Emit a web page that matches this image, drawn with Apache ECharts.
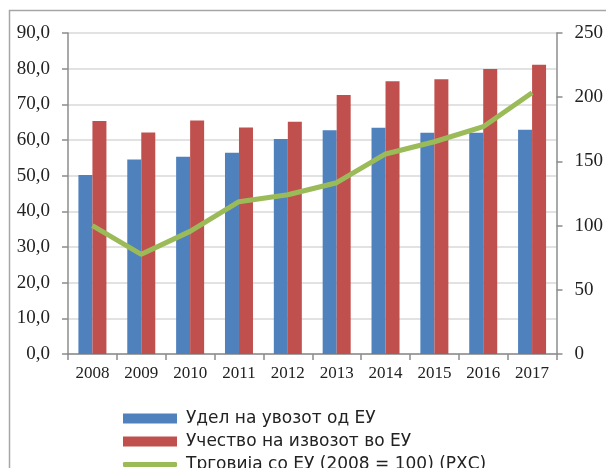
<html>
<head>
    <meta charset="utf-8">
    <title>Трговија со ЕУ</title>
    <script src="https://cdn.jsdelivr.net/npm/echarts@6.0.0/dist/echarts.min.js"></script>
    <style>
        html, body { margin: 0; padding: 0; background: #fff; }
        #main { width: 606px; height: 468px; }
    </style>
</head>
<body>
<div id="main"></div>
<script>
    var years = ['2008', '2009', '2010', '2011', '2012', '2013', '2014', '2015', '2016', '2017']
    var importShare = [50.2, 54.5, 55.3, 56.4, 60.3, 62.7, 63.4, 62.0, 62.0, 62.9]
    var exportShare = [65.3, 62.1, 65.5, 63.5, 65.1, 72.6, 76.5, 77.0, 79.9, 81.1]
    var tradeIndex = [100, 77.6, 95.5, 118.6, 124, 133.4, 155.8, 165.3, 177, 203.5]
    var names = ['Удел на увозот од ЕУ', 'Учество на извозот во ЕУ', 'Трговија со ЕУ (2008 = 100) (РХС)']

    var serif = '"Liberation Serif", "DejaVu Serif", serif'
    var axisGray = '#8c8c8c'
    var legendText = { fontFamily: '"DejaVu Sans", sans-serif', fontSize: 17, color: '#222', padding: [0, 0, 0, 4] }

    // one legend per row so they stack like the original
    function legendRow (name, top, icon, h) {
        return {
            left: 123,
            top: top,
            padding: 0,
            itemWidth: 54,
            itemHeight: h,
            icon: icon,
            textStyle: legendText,
            data: [name]
        }
    }

    var myChart = echarts.init(document.getElementById('main'))

    myChart.setOption({
        animation: false,
        graphic: [{
            type: 'rect',
            shape: { x: 9.5, y: 10.5, width: 620, height: 480 },
            style: { fill: 'none', stroke: '#a6a6a6', lineWidth: 1.5 }
        }],
        grid: { left: 68, right: 49, top: 33, bottom: 114 },
        legend: [
            legendRow(names[0], 410, 'rect', 10),
            legendRow(names[1], 433, 'rect', 10),
            legendRow(names[2], 456, 'roundRect', 5)
        ],
        xAxis: {
            type: 'category',
            data: years,
            axisLine: { lineStyle: { color: axisGray, width: 1.5 } },
            axisTick: { show: true, length: 6, lineStyle: { color: axisGray, width: 1.5 } },
            axisLabel: { fontFamily: serif, fontSize: 17, color: '#222', margin: 11 }
        },
        yAxis: [{
            type: 'value',
            min: 0,
            max: 90,
            interval: 10,
            axisLine: { show: true, lineStyle: { color: axisGray, width: 1.5 } },
            axisTick: { show: true, length: 6, lineStyle: { color: axisGray, width: 1.5 } },
            splitLine: { lineStyle: { color: '#d9d9d9', width: 1.5 } },
            axisLabel: {
                fontFamily: serif, fontSize: 19, color: '#222', margin: 18,
                formatter: function (v) { return v.toFixed(1).replace('.', ',') }
            }
        }, {
            type: 'value',
            min: 0,
            max: 250,
            interval: 50,
            position: 'right',
            axisLine: { show: true, lineStyle: { color: axisGray, width: 1.5 } },
            axisTick: { show: true, length: 6, lineStyle: { color: axisGray, width: 1.5 } },
            splitLine: { show: false },
            axisLabel: { fontFamily: serif, fontSize: 19, color: '#222', margin: 18 }
        }],
        series: [{
            name: names[0],
            type: 'bar',
            data: importShare,
            barWidth: 14,
            barGap: '0%',
            itemStyle: { color: '#4f81bd' }
        }, {
            name: names[1],
            type: 'bar',
            data: exportShare,
            barWidth: 14,
            itemStyle: { color: '#c0504d' }
        }, {
            name: names[2],
            type: 'line',
            yAxisIndex: 1,
            data: tradeIndex,
            symbol: 'none',
            itemStyle: { color: '#9bbb59' },
            lineStyle: { color: '#9bbb59', width: 5 },
            z: 5
        }]
    })
</script>
</body>
</html>
